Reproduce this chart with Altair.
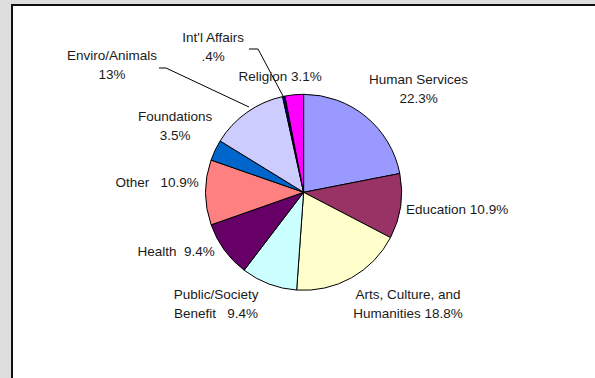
import altair as alt
import pandas as pd

NB = "\u00a0"

# ---- data ----
categories = ["Human Services", "Education", "Arts, Culture, and Humanities",
              "Public/Society Benefit", "Health", "Other", "Foundations",
              "Enviro/Animals", "Int'l Affairs", "Religion"]
shares = [22.3, 10.9, 18.8, 9.4, 9.4, 10.9, 3.5, 13.0, 0.4, 3.1]
label_texts = ["Human Services\n22.3%", "Education 10.9%",
               "Arts, Culture, and\nHumanities 18.8%",
               "Public/Society\nBenefit" + NB * 3 + "9.4%", "Health" + NB * 2 + "9.4%",
               "Other" + NB * 3 + "10.9%", "Foundations\n3.5%", "Enviro/Animals\n13%",
               "Int'l Affairs\n.4%", "Religion 3.1%"]

# ---- styles / layout ----
colors = ["#9999FF", "#993366", "#FFFFCC", "#CCFFFF", "#660066",
          "#FF8080", "#0066CC", "#CCCCFF", "#000080", "#FF00FF"]
W, H = 595, 378
CX, CY, R = 303.6, 192.3, 98
# first-line centres of the labels, relative to the pie centre (layout only)
label_dx = [115, 153.5, 104.5, -87.5, -127.5, -146.5, -128.5, -191.5, -90.5, -23.5]
label_dy = [-112.3, 17.7, 102.7, 102.7, 59.7, -9.3, -75.3, -136.8, -154.3, -115.3]
# leader lines (relative to pie centre)
leader_groups = [0, 0, 0, 1, 1, 1]
leader_dx = [-144.6, -137.6, -54.6, -54.6, -45.6, -20.6]
leader_dy = [-124.3, -124.3, -85.3, -143.3, -143.3, -96.3]

df = pd.DataFrame({"cat": categories, "share": shares,
                   "order": list(range(len(categories)))})
labels = pd.DataFrame({"text": label_texts,
                       "x": [CX + d for d in label_dx],
                       "y": [CY + d for d in label_dy]})
leaders = pd.DataFrame({"g": leader_groups,
                        "x": [CX + d for d in leader_dx],
                        "y": [CY + d for d in leader_dy],
                        "o": list(range(len(leader_groups)))})

frame = pd.DataFrame({"a": [0]})
bg = alt.Chart(frame).mark_rect(color="#DEDEDE").encode(
    x=alt.value(0), x2=alt.value(W), y=alt.value(0), y2=alt.value(H))
panel = alt.Chart(frame).mark_rect(color="white", stroke="#111111", strokeWidth=2).encode(
    x=alt.value(12), x2=alt.value(W + 10), y=alt.value(5), y2=alt.value(H + 10))

pie = alt.Chart(df).mark_arc(outerRadius=R, stroke="black", strokeWidth=1).encode(
    theta=alt.Theta("share:Q", stack=True),
    order=alt.Order("order:Q", sort="ascending"),
    color=alt.Color("cat:N", scale=alt.Scale(domain=categories, range=colors), legend=None),
    x=alt.value(CX), y=alt.value(CY),
)

lines = alt.Chart(leaders).mark_line(color="black", strokeWidth=1).encode(
    x=alt.X("x:Q", scale=None), y=alt.Y("y:Q", scale=None),
    detail="g:N", order="o:Q")

text = alt.Chart(labels).mark_text(
    font="Liberation Sans", fontSize=13.5, color="#1a1a1a",
    align="center", baseline="middle", lineBreak="\n", lineHeight=19,
).encode(x=alt.X("x:Q", scale=None), y=alt.Y("y:Q", scale=None), text="text:N")

chart = alt.layer(bg, panel, pie, lines, text).properties(
    width=W, height=H, padding=0, autosize=alt.AutoSizeParams(type="none")
).configure_view(stroke=None)

chart.save("out.html", embed_options={"renderer": "svg", "actions": False})
